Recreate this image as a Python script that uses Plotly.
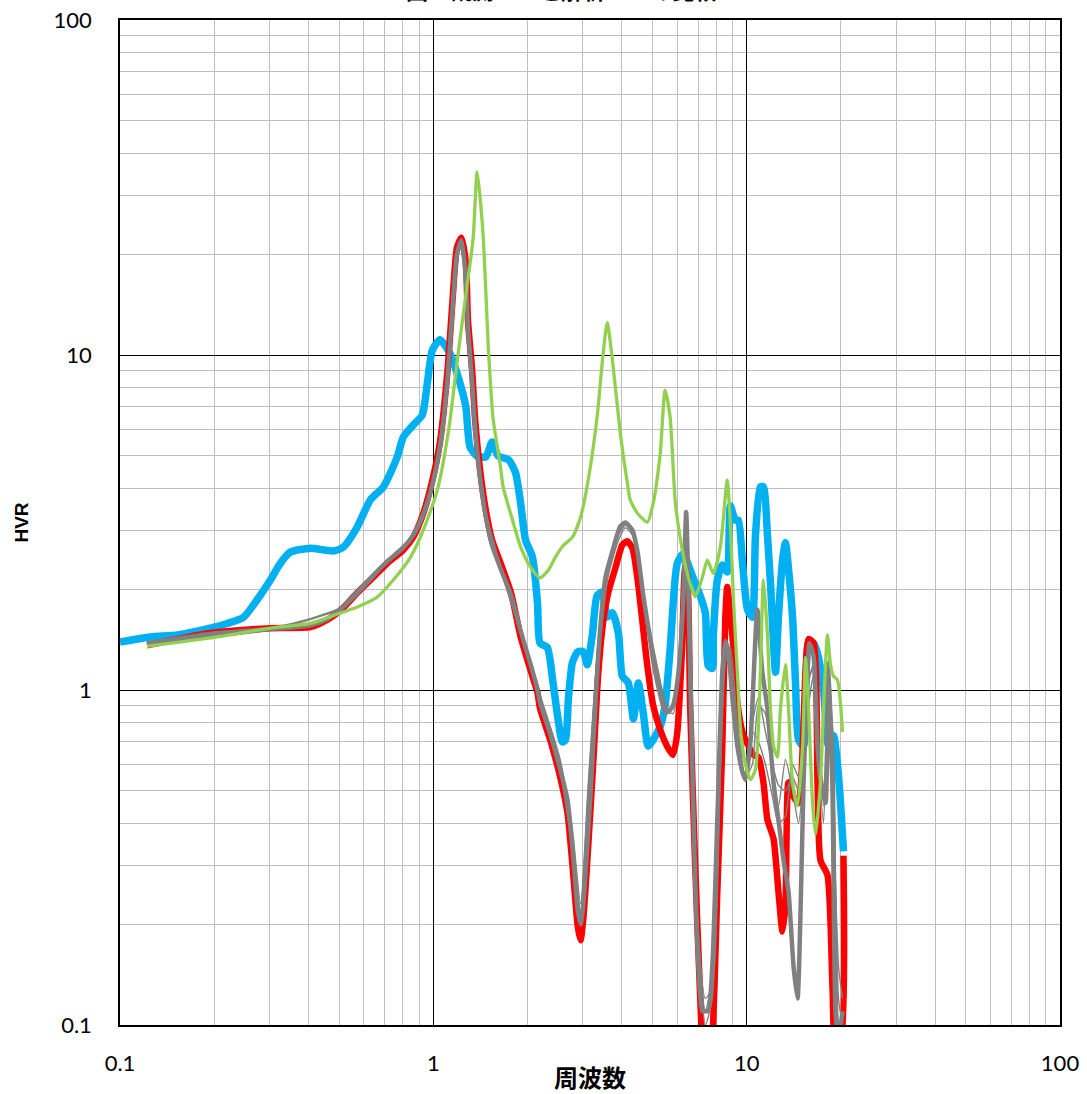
import plotly.graph_objects as go

# ---------------- data ----------------
blue_f = [0.1, 0.125, 0.153, 0.194, 0.22, 0.248, 0.274, 0.302, 0.325, 0.35,
          0.405, 0.48, 0.516, 0.572, 0.629, 0.693, 0.767, 0.802, 0.863, 0.922,
          0.957, 0.993, 1.05, 1.13, 1.20, 1.27, 1.31, 1.38, 1.47, 1.54,
          1.61, 1.74, 1.83, 1.90, 1.97, 2.07, 2.15, 2.19, 2.31, 2.41,
          2.50, 2.58, 2.64, 2.70, 2.78, 2.89, 3.01, 3.10, 3.22, 3.33,
          3.46, 3.59, 3.73, 3.90, 4.01, 4.19, 4.35, 4.51, 4.68, 4.85,
          5.03, 5.30, 5.49, 5.70, 6.00, 6.27, 6.70, 7.11, 7.38, 7.54,
          7.77, 7.83, 8.06, 8.36, 8.67, 8.87, 9.20, 9.41, 9.69, 10.06,
          10.43, 10.67, 11.06, 11.31, 11.65, 11.91, 12.36, 12.63, 13.01, 13.30,
          13.60, 14.01, 14.32, 14.64, 15.19, 15.76, 16.35, 16.95, 17.59, 18.25,
          18.93, 19.49, 19.93, 20.37]
blue_v = [1.39, 1.44, 1.46, 1.53, 1.58, 1.65, 1.86, 2.13, 2.39, 2.58,
          2.65, 2.60, 2.67, 3.07, 3.69, 4.04, 4.96, 5.69, 6.18, 6.62,
          8.25, 10.35, 11.1, 10.1, 8.6, 7.0, 5.3, 5.0, 4.96, 5.5,
          5.0, 4.86, 4.45, 3.6, 2.8, 2.5, 1.82, 1.38, 1.34, 1.05,
          0.82, 0.70, 0.71, 0.95, 1.21, 1.30, 1.30, 1.19, 1.47, 1.91,
          1.96, 1.65, 1.70, 1.47, 1.10, 1.05, 0.82, 1.05, 0.85, 0.68,
          0.71, 0.78, 0.90, 1.33, 2.38, 2.55, 2.2, 1.91, 1.70, 1.18,
          1.16, 1.46, 2.13, 2.36, 2.25, 3.54, 3.21, 3.21, 2.43, 1.74,
          1.65, 2.9, 4.04, 4.04, 2.9, 2.09, 1.13, 1.65, 2.43, 2.75,
          2.3, 1.65, 1.05, 0.71, 0.68, 1.38, 1.38, 1.25, 1.0, 0.68,
          0.73, 0.60, 0.46, 0.33]

red_f = [0.122, 0.194, 0.302, 0.405, 0.459, 0.516, 0.572, 0.643, 0.713, 0.802,
         0.863, 0.929, 0.993, 1.05, 1.11, 1.15, 1.19, 1.23, 1.27, 1.29,
         1.33, 1.36, 1.41, 1.47, 1.54, 1.64, 1.77, 1.90, 2.04, 2.15,
         2.19, 2.36, 2.54, 2.68, 2.78, 2.89, 2.95, 3.01, 3.12, 3.24,
         3.36, 3.49, 3.62, 3.81, 4.01, 4.16, 4.32, 4.48, 4.64, 4.82,
         5.03, 5.30, 5.57, 5.82, 6.00, 6.22, 6.36, 6.46, 6.60, 6.85,
         7.11, 7.27, 7.54, 7.77, 8.06, 8.36, 8.55, 8.67, 9.00, 9.34,
         9.69, 10.06, 10.51, 10.90, 11.31, 11.65, 12.18, 12.63, 13.01, 13.30,
         13.60, 14.11, 14.64, 15.41, 15.76, 16.35, 16.83, 17.20, 18.11, 18.79,
         19.21, 19.93, 20.37]
red_v = [1.36, 1.48, 1.53, 1.54, 1.62, 1.76, 1.95, 2.17, 2.39, 2.62,
         2.86, 3.37, 4.23, 5.5, 9.0, 14.3, 21, 22.4, 18.8, 12.7,
         9.0, 6.4, 4.54, 3.45, 2.8, 2.39, 1.95, 1.44, 1.15, 0.98,
         0.88, 0.71, 0.55, 0.43, 0.30, 0.197, 0.179, 0.207, 0.34, 0.61,
         1.12, 1.62, 1.96, 2.31, 2.71, 2.78, 2.65, 2.16, 1.62, 1.18,
         0.90, 0.76, 0.68, 0.64, 0.74, 1.33, 2.3, 2.2, 0.9, 0.3,
         0.12, 0.08, 0.07, 0.09, 0.25, 0.68, 1.65, 2.03, 1.46, 0.92,
         0.75, 0.69, 0.64, 0.63, 0.53, 0.41, 0.36, 0.25, 0.19, 0.23,
         0.53, 0.48, 0.46, 1.13, 1.42, 1.38, 0.53, 0.31, 0.28, 0.13,
         0.09, 0.09, 0.32]

gray_f = [0.122, 0.194, 0.302, 0.405, 0.459, 0.516, 0.572, 0.643, 0.713, 0.802,
          0.863, 0.929, 0.993, 1.05, 1.11, 1.15, 1.19, 1.23, 1.27, 1.29,
          1.33, 1.36, 1.41, 1.47, 1.54, 1.64, 1.77, 1.90, 2.04, 2.15,
          2.19, 2.36, 2.54, 2.68, 2.78, 2.89, 2.95, 3.01, 3.17, 3.36,
          3.54, 3.73, 3.95, 4.10, 4.32, 4.48, 4.68, 4.92, 5.18, 5.41,
          5.61, 5.82, 6.04, 6.27, 6.41, 6.51, 6.70, 6.95, 7.22, 7.38,
          7.54, 7.77, 8.06, 8.36, 8.55, 8.74, 9.00, 9.34, 9.69, 9.91,
          10.28, 10.82, 11.22, 11.65, 12.18, 12.63, 13.11, 13.60, 14.11, 14.53,
          14.86, 15.19, 15.64, 15.87, 16.35, 16.83, 17.20, 17.85, 18.25, 18.79,
          19.21, 19.64, 20.22]
gray_v = [1.38, 1.47, 1.52, 1.56, 1.63, 1.77, 1.96, 2.2, 2.42, 2.66,
          2.9, 3.35, 4.1, 5.3, 8.5, 13.5, 20, 22, 17, 12,
          8.3, 6.0, 4.3, 3.3, 2.7, 2.3, 1.92, 1.5, 1.2, 1.0,
          0.92, 0.74, 0.58, 0.47, 0.34, 0.22, 0.2, 0.23, 0.48, 1.27,
          2.16, 2.6, 3.08, 3.16, 3.0, 2.6, 1.91, 1.43, 1.12, 0.93,
          0.86, 0.90, 1.10, 1.82, 3.4, 2.06, 0.61, 0.18, 0.11, 0.11,
          0.11, 0.15, 0.41, 1.13, 1.4, 1.3, 0.95, 0.68, 0.57, 0.54,
          0.7, 1.74, 1.13, 0.88, 0.53, 0.41, 0.31, 0.25, 0.15, 0.12,
          0.22, 0.53, 1.13, 1.38, 1.26, 0.68, 0.55, 0.46, 1.2, 0.5,
          0.11, 0.09, 0.11]

thin_f = [0.122, 0.302, 0.516, 0.713, 0.863, 0.993, 1.11, 1.19, 1.23, 1.29,
          1.36, 1.47, 1.64, 1.90, 2.19, 2.54, 2.78, 2.95, 3.12, 3.36,
          3.62, 3.90, 4.10, 4.32, 4.64, 5.03, 5.49, 5.82, 6.13, 6.41,
          6.60, 6.95, 7.38, 7.77, 8.24, 8.55, 8.87, 9.34, 9.91, 10.43,
          10.90, 11.48, 12.09, 12.63, 13.30, 14.01, 14.64, 15.19, 15.76, 16.35,
          16.95, 17.59, 18.25, 18.93, 19.64, 20.22]
thinA_v = [1.38, 1.52, 1.78, 2.44, 2.92, 4.15, 8.6, 20.5, 21.5, 12.2,
           6.1, 3.35, 2.32, 1.52, 0.95, 0.6, 0.36, 0.22, 0.5, 1.35,
           2.3, 2.9, 3.1, 2.95, 2.0, 1.2, 0.86, 0.88, 1.3, 3.1,
           1.6, 0.2, 0.11, 0.14, 0.7, 1.35, 1.2, 0.75, 0.6, 0.8,
           0.95, 0.75, 0.6, 0.52, 0.5, 0.55, 0.5, 0.65, 1.05, 1.2,
           0.7, 0.45, 1.25, 0.55, 0.12, 0.1]
thinB_v = [1.37, 1.53, 1.76, 2.40, 2.88, 4.05, 8.3, 19.5, 21, 11.8,
           5.9, 3.3, 2.28, 1.48, 0.93, 0.57, 0.33, 0.21, 0.45, 1.25,
           2.2, 2.8, 3.05, 2.9, 1.95, 1.15, 0.84, 0.9, 1.4, 3.3,
           1.9, 0.22, 0.12, 0.13, 0.55, 1.2, 1.35, 0.8, 0.55, 0.6,
           0.9, 0.85, 0.55, 0.45, 0.62, 0.5, 0.4, 0.55, 0.9, 1.1,
           0.55, 0.5, 0.9, 0.4, 0.15, 0.12]
thinC_v = [1.38, 1.51, 1.77, 2.42, 2.9, 4.1, 8.4, 20, 21.8, 12.5,
           6.2, 3.4, 2.35, 1.5, 0.97, 0.62, 0.38, 0.23, 0.52, 1.4,
           2.4, 2.95, 3.15, 3.0, 2.05, 1.22, 0.88, 0.85, 1.2, 2.8,
           1.5, 0.19, 0.1, 0.12, 0.6, 1.3, 1.1, 0.7, 0.62, 0.75,
           0.7, 0.6, 0.48, 0.4, 0.42, 0.6, 0.55, 0.7, 1.1, 1.15,
           0.62, 0.4, 1.05, 0.7, 0.1, 0.09]

green_f = [0.122, 0.194, 0.302, 0.405, 0.48, 0.572, 0.66, 0.745, 0.845, 0.929,
           1.03, 1.12, 1.20, 1.28, 1.34, 1.38, 1.44, 1.50, 1.55, 1.64,
           1.67, 1.79, 1.90, 2.04, 2.19, 2.33, 2.45, 2.60, 2.78, 2.95,
           3.12, 3.33, 3.49, 3.59, 3.75, 3.95, 4.16, 4.25, 4.48, 4.82,
           5.03, 5.30, 5.49, 5.70, 5.91, 6.13, 6.46, 6.85, 7.22, 7.49,
           7.83, 8.24, 8.67, 8.87, 9.07, 9.34, 9.55, 9.91, 10.28, 10.67,
           11.06, 11.31, 11.65, 11.91, 12.18, 12.54, 12.82, 13.30, 13.60, 14.01,
           14.53, 15.08, 15.41, 15.76, 16.23, 16.59, 17.20, 17.59, 18.11, 18.52,
           18.93, 19.49, 20.22]
green_v = [1.35, 1.43, 1.53, 1.58, 1.67, 1.77, 1.89, 2.13, 2.49, 3.0,
           3.95, 6.0, 10.1, 16, 22.3, 35.2, 23.2, 10.3, 6.5, 4.6,
           4.04, 3.21, 2.67, 2.33, 2.16, 2.28, 2.49, 2.7, 2.86, 3.28,
           4.23, 6.5, 10.3, 12.5, 9.2, 5.85, 4.15, 3.69, 3.37, 3.17,
           3.61, 5.1, 7.86, 6.5, 3.69, 2.86, 2.23, 1.9, 2.17, 2.44,
           2.23, 2.67, 4.23, 3.13, 1.88, 1.13, 0.77, 0.60, 0.54, 0.58,
           1.13, 2.13, 1.46, 0.88, 0.68, 0.63, 0.88, 1.19, 0.88, 0.53,
           0.45, 0.68, 1.25, 0.88, 0.46, 0.37, 0.53, 0.88, 1.46, 1.19,
           1.1, 1.07, 0.75]

x_ticks = [0.1, 1, 10, 100]
x_tick_text = ["0.1", "1", "10", "100"]
y_ticks = [0.1, 1, 10, 100]
y_tick_text = ["0.1", "1", "10", "100"]

for a, b in [(blue_f, blue_v), (red_f, red_v), (gray_f, gray_v), (thin_f, thinA_v),
             (thin_f, thinB_v), (thin_f, thinC_v), (green_f, green_v)]:
    assert len(a) == len(b), (len(a), len(b))

# ---------------- figure ----------------
fig = go.Figure()
SM = 0.6

fig.add_trace(go.Scatter(x=blue_f, y=blue_v, mode="lines",
                         line=dict(color="#00B0F0", width=7.5, shape="spline", smoothing=SM)))
fig.add_trace(go.Scatter(x=red_f, y=red_v, mode="lines",
                         line=dict(color="#FF0000", width=6.5, shape="spline", smoothing=SM)))
fig.add_trace(go.Scatter(x=gray_f, y=gray_v, mode="lines",
                         line=dict(color="#808080", width=4.5, shape="spline", smoothing=SM)))
for tv in (thinA_v, thinB_v, thinC_v):
    fig.add_trace(go.Scatter(x=thin_f, y=tv, mode="lines",
                             line=dict(color="#808080", width=1.4, shape="spline", smoothing=SM)))
fig.add_trace(go.Scatter(x=green_f, y=green_v, mode="lines",
                         line=dict(color="#92D050", width=3.3, shape="spline", smoothing=SM)))

axis_common = dict(
    type="log", range=[-1, 2], automargin=False,
    showgrid=True, gridcolor="#000000", gridwidth=1,
    minor=dict(dtick="D1", showgrid=True, gridcolor="#BFBFBF", gridwidth=1, ticks=""),
    showline=True, linecolor="#000000", linewidth=1.5, mirror=True,
    ticks="", zeroline=False,
    tickfont=dict(family="Lato, Liberation Sans, sans-serif", size=22, color="#000000"),
)

fig.update_layout(
    width=1087, height=1094,
    margin=dict(l=120, r=27, t=20, b=69),
    paper_bgcolor="white", plot_bgcolor="white",
    showlegend=False,
    xaxis=dict(**axis_common, tickvals=x_ticks, ticktext=x_tick_text,
               ticklabelstandoff=18,
               title=dict(text="<b>周波数</b>", standoff=2,
                          font=dict(family="Noto Sans CJK JP", size=24, color="#000000"))),
    yaxis=dict(**axis_common, tickvals=y_ticks, ticktext=y_tick_text,
               ticklabelstandoff=22,
               title=dict(text="<b>HVR</b>", standoff=20,
                          font=dict(family="Liberation Sans, sans-serif", size=19, color="#000000"))),
)

fig.add_annotation(text="<b>図　観測HVRと解析HVRの比較</b>", xref="paper", yref="paper",
                   x=0.47, y=1.0127, yanchor="bottom", showarrow=False,
                   font=dict(family="Noto Sans CJK JP", size=22, color="#000000"))

fig.write_html("out.html")
